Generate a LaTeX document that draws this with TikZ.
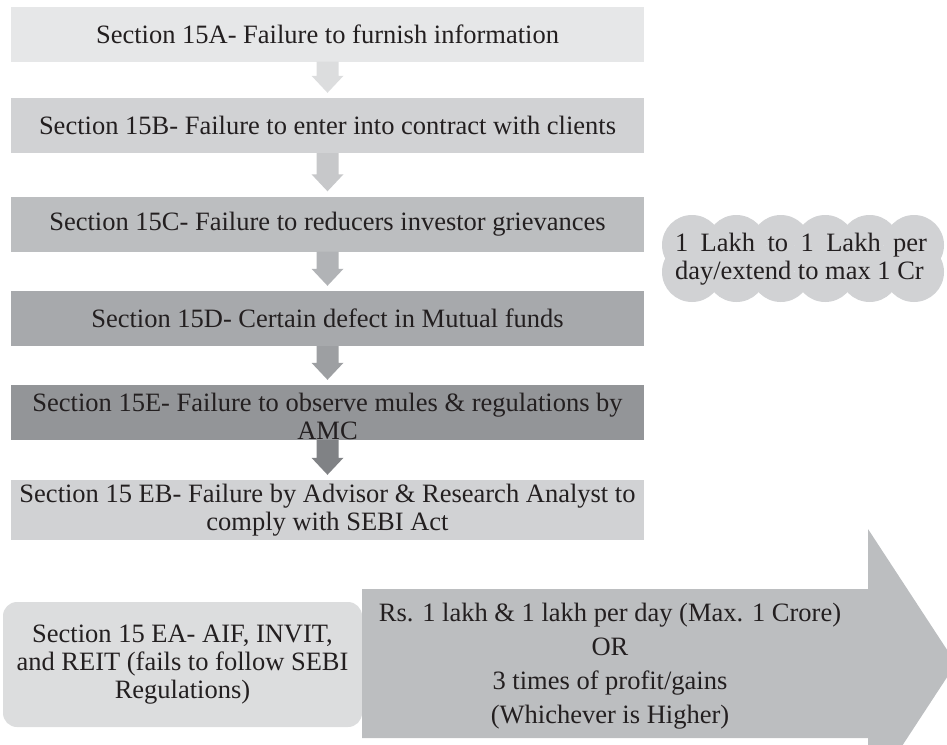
\documentclass[tikz,border=0pt]{standalone}
\usepackage{fontspec}
\setmainfont{Liberation Serif}
\usetikzlibrary{calc}
\definecolor{ink}{HTML}{231F20}
\definecolor{shadeA}{HTML}{E6E7E8}
\definecolor{shadeAB}{HTML}{DCDDDE}
\definecolor{shadeB}{HTML}{D1D2D4}
\definecolor{shadeBC}{HTML}{C7C8CA}
\definecolor{shadeC}{HTML}{BCBEC0}
\definecolor{shadeCD}{HTML}{B1B3B6}
\definecolor{shadeD}{HTML}{A7A9AC}
\definecolor{shadeDE}{HTML}{9D9FA2}
\definecolor{shadeE}{HTML}{939598}
\definecolor{shadeEF}{HTML}{808285}
\definecolor{shadeEB}{HTML}{D1D2D4}
\definecolor{cloudgray}{HTML}{D1D2D4}
\definecolor{panelgray}{HTML}{DCDDDE}
\definecolor{pengray}{HTML}{BCBEC0}
% downward block arrow from the bottom of one box towards the next
\newcommand\flowarrow[3]{%
  \fill[#1] let \p1=(#2.south), \p2=(#3.north) in
    (\x1-11pt,\y1) -- (\x1+11pt,\y1) -- (\x1+11pt,\y2+22pt) -- (\x1+16pt,\y2+22pt)
    -- (\x1,\y2+5pt) -- (\x1-16pt,\y2+22pt) -- (\x1-11pt,\y2+22pt) -- cycle;}
\begin{document}
\begin{tikzpicture}[x=1pt,y=-1pt,
  secbox/.style={rectangle, inner sep=0pt, minimum width=633pt, minimum height=55pt},
  txt/.style={inner sep=0pt, align=center, text=ink, font=\fontsize{26.5pt}{28pt}\selectfont}]
\useasboundingbox (0,0) rectangle (947,744);
\clip (0,0) rectangle (947,744);

% section boxes
\node[secbox, fill=shadeA] (a) at (327.5,34) {};
\node[secbox, fill=shadeB] (b) at (327.5,125.5) {};
\node[secbox, fill=shadeC] (c) at (327.5,224) {};
\node[secbox, fill=shadeD] (d) at (327.5,318.5) {};
\node[secbox, fill=shadeE] (e) at (327.5,412.5) {};
\node[secbox, fill=shadeEB, minimum height=60pt] (eb) at (327.5,510) {};

% arrows between the boxes
\flowarrow{shadeAB}{a}{b}
\flowarrow{shadeBC}{b}{c}
\flowarrow{shadeCD}{c}{d}
\flowarrow{shadeDE}{d}{e}
\flowarrow{shadeEF}{e}{eb}

% box texts
\node[txt] (ta) at (a) {Section 15A- Failure to furnish information};
\node[txt] (tb) at (b) {Section 15B- Failure to enter into contract with clients};
\node[txt] (tc) at (c) {Section 15C- Failure to reducers investor grievances};
\node[txt] (td) at (d) {Section 15D- Certain defect in Mutual funds};
\node[txt] (te) at (327.5,416) {Section 15E- Failure to observe mules \& regulations by\\AMC};
\node[txt] (teb) at (eb) {Section 15 EB- Failure by Advisor \& Research Analyst to\\comply with SEBI Act};

% penalty cloud
\fill[cloudgray]
  (692,245) circle (30) (736.4,245) circle (30) (780.8,245) circle (30)
  (825.2,245) circle (30) (869.6,245) circle (30) (914,245) circle (30)
  (692,272) circle (30) (736.4,272) circle (30) (780.8,272) circle (30)
  (825.2,272) circle (30) (869.6,272) circle (30) (914,272) circle (30)
  (692,245) rectangle (914,272);
\node[txt, align=left] (lakh) at (801,259)
  {\makebox[252pt][s]{1 Lakh to 1 Lakh per}\\\mbox{day/extend to max 1 Cr}};

% section 15 EA panel and penalty arrow
\node[rectangle, rounded corners=14pt, fill=panelgray, inner sep=0pt,
  minimum width=359pt, minimum height=125pt] (ea) at (182.5,664.5) {};
\fill[pengray] (362,589) -- (868,589) -- (868,529) -- (956,663.5)
  -- (868,798) -- (868,738) -- (362,738) -- cycle;
\node[txt] (tea) at (ea) {Section 15 EA- AIF, INVIT,\\and REIT (fails to follow SEBI\\Regulations)};
\node[txt, font=\fontsize{26.5pt}{34pt}\selectfont] (pen) at (610,666)
  {Rs. 1 lakh \& 1 lakh per day (Max. 1 Crore)\\OR\\3 times of profit/gains\\(Whichever is Higher)};
\end{tikzpicture}
\end{document}
